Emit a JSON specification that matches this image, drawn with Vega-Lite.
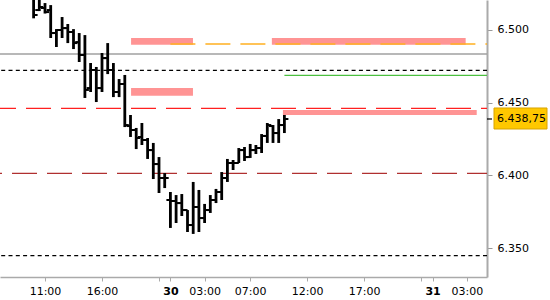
{
  "$schema": "https://vega.github.io/schema/vega-lite/v6.json",
  "width": 487,
  "height": 277,
  "padding": {"left": 0, "top": 0, "right": 63, "bottom": 23},
  "autosize": {"type": "none"},
  "background": "white",
  "config": {
    "view": {"stroke": null},
    "axis": {"grid": false, "labelFont": "DejaVu Sans", "labelFontSize": 11, "labelColor": "#000000"}
  },
  "datasets": {
    "bars": [
      {"t": -1, "o": 6523.9, "h": 6530.8, "l": 6507.9, "c": 6510.2},
      {"t": -0.5, "o": 6513.6, "h": 6526.0, "l": 6512.9, "c": 6515.7},
      {"t": 0, "o": 6515.0, "h": 6518.4, "l": 6511.2, "c": 6512.2},
      {"t": 0.5, "o": 6513.6, "h": 6517.0, "l": 6494.4, "c": 6497.8},
      {"t": 1, "o": 6497.8, "h": 6500.5, "l": 6488.2, "c": 6499.9},
      {"t": 1.5, "o": 6499.9, "h": 6508.8, "l": 6494.4, "c": 6501.2},
      {"t": 2, "o": 6501.2, "h": 6504.0, "l": 6490.9, "c": 6498.5},
      {"t": 2.5, "o": 6498.5, "h": 6500.5, "l": 6486.8, "c": 6490.9},
      {"t": 3, "o": 6491.6, "h": 6497.8, "l": 6477.9, "c": 6482.7},
      {"t": 3.5, "o": 6482.7, "h": 6496.4, "l": 6453.2, "c": 6458.7},
      {"t": 4, "o": 6460.0, "h": 6477.2, "l": 6457.3, "c": 6472.4},
      {"t": 4.5, "o": 6472.4, "h": 6474.5, "l": 6450.4, "c": 6460.0},
      {"t": 5, "o": 6460.0, "h": 6484.1, "l": 6457.3, "c": 6480.6},
      {"t": 5.5, "o": 6480.6, "h": 6490.9, "l": 6469.6, "c": 6472.4},
      {"t": 6, "o": 6472.4, "h": 6477.2, "l": 6453.8, "c": 6457.3},
      {"t": 6.5, "o": 6457.3, "h": 6466.2, "l": 6453.8, "c": 6462.8},
      {"t": 7, "o": 6462.8, "h": 6469.0, "l": 6433.2, "c": 6434.6},
      {"t": 7.5, "o": 6433.9, "h": 6441.5, "l": 6426.4, "c": 6431.2},
      {"t": 8, "o": 6431.2, "h": 6432.6, "l": 6418.1, "c": 6425.7},
      {"t": 8.5, "o": 6426.4, "h": 6436.0, "l": 6420.9, "c": 6424.3},
      {"t": 9, "o": 6424.3, "h": 6425.7, "l": 6411.3, "c": 6417.4},
      {"t": 9.5, "o": 6417.4, "h": 6422.3, "l": 6397.5, "c": 6407.8},
      {"t": 10, "o": 6407.8, "h": 6412.6, "l": 6387.9, "c": 6398.2},
      {"t": 10.5, "o": 6398.2, "h": 6401.6, "l": 6391.3, "c": 6398.2},
      {"t": 11, "o": 6383.1, "h": 6388.6, "l": 6363.9, "c": 6382.4},
      {"t": 11.5, "o": 6382.4, "h": 6386.5, "l": 6367.3, "c": 6381.0},
      {"t": 12, "o": 6381.0, "h": 6387.2, "l": 6372.1, "c": 6376.2},
      {"t": 12.5, "o": 6376.2, "h": 6376.2, "l": 6361.1, "c": 6365.9},
      {"t": 13, "o": 6365.9, "h": 6395.5, "l": 6359.8, "c": 6378.3},
      {"t": 13.5, "o": 6378.3, "h": 6390.0, "l": 6361.1, "c": 6370.7},
      {"t": 14, "o": 6370.7, "h": 6380.4, "l": 6367.3, "c": 6376.2},
      {"t": 14.5, "o": 6376.2, "h": 6386.5, "l": 6374.2, "c": 6383.1},
      {"t": 15, "o": 6383.1, "h": 6390.7, "l": 6381.0, "c": 6388.6},
      {"t": 15.5, "o": 6388.6, "h": 6402.3, "l": 6383.1, "c": 6398.2},
      {"t": 16, "o": 6398.2, "h": 6411.3, "l": 6395.5, "c": 6408.5},
      {"t": 16.5, "o": 6408.5, "h": 6410.6, "l": 6403.7, "c": 6408.5},
      {"t": 17, "o": 6408.5, "h": 6418.8, "l": 6408.5, "c": 6417.4},
      {"t": 17.5, "o": 6417.4, "h": 6419.5, "l": 6409.9, "c": 6412.6},
      {"t": 18, "o": 6412.6, "h": 6421.6, "l": 6412.0, "c": 6417.4},
      {"t": 18.5, "o": 6417.4, "h": 6420.9, "l": 6414.7, "c": 6418.8},
      {"t": 19, "o": 6418.8, "h": 6428.4, "l": 6415.4, "c": 6427.1},
      {"t": 19.5, "o": 6427.1, "h": 6436.0, "l": 6422.3, "c": 6434.6},
      {"t": 20, "o": 6433.9, "h": 6434.6, "l": 6422.3, "c": 6429.1},
      {"t": 20.5, "o": 6429.1, "h": 6438.7, "l": 6422.3, "c": 6434.6},
      {"t": 21, "o": 6434.6, "h": 6441.5, "l": 6429.1, "c": 6438.75}
    ],
    "zones": [
      {"t1": 7.55, "t2": 12.98, "p1": 6489.8, "p2": 6494.4},
      {"t1": 7.55, "t2": 12.98, "p1": 6454.7, "p2": 6460.0},
      {"t1": 19.9, "t2": 36.9, "p1": 6489.8, "p2": 6494.4},
      {"t1": 20.87, "t2": 37.87, "p1": 6441.5, "p2": 6444.9}
    ],
    "levels": [
      {"price": 6483.4, "kind": "gray"},
      {"price": 6472.2, "kind": "blackdash"},
      {"price": 6344.85, "kind": "blackdash"},
      {"price": 6446.1, "kind": "red1"},
      {"price": 6401.4, "kind": "red2"},
      {"price": 6468.75, "kind": "green", "start": 21},
      {"price": 6490.25, "kind": "orange", "start": 11}
    ],
    "tag": [{"price": 6438.75, "label": "6.438,75"}]
  },
  "layer": [
    {
      "data": {"name": "zones"},
      "mark": {"type": "rect", "color": "#ff9494"},
      "encoding": {
        "x": {
          "field": "t1", "type": "quantitative", "title": null,
          "scale": {"domain": [-3.9474, 38.7719], "nice": false, "zero": false},
          "axis": {
            "values": [0, 5, 10, 11, 14, 18, 23, 28, 33, 34, 37],
            "labelExpr": "datum.value==0?'11:00':datum.value==5?'16:00':datum.value==11?'30':datum.value==14?'03:00':datum.value==18?'07:00':datum.value==23?'12:00':datum.value==28?'17:00':datum.value==34?'31':datum.value==37?'03:00':''",
            "labelFlush": false,
            "labelOverlap": false,
            "domainColor": "#aaaaaa",
            "domainWidth": 1.5,
            "tickColor": "#aaaaaa",
            "tickSize": 4,
            "labelPadding": 4,
            "labelFontWeight": {"condition": {"test": "datum.value == 11 || datum.value == 34", "value": "bold"}, "value": "normal"}
          }
        },
        "x2": {"field": "t2"},
        "y": {
          "field": "p1", "type": "quantitative", "title": null,
          "scale": {"domain": [6330.2, 6520.5], "nice": false, "zero": false},
          "axis": {
            "orient": "right",
            "values": [6350, 6400, 6450, 6500],
            "labelExpr": "replace(format(datum.value, ','), ',', '.')",
            "domainColor": "#aaaaaa",
            "domainWidth": 2,
            "tickColor": "#999999",
            "tickSize": 5,
            "labelPadding": 5
          }
        },
        "y2": {"field": "p2"}
      }
    },
    {
      "data": {"name": "levels"},
      "transform": [{"filter": "datum.kind == 'gray'"}],
      "mark": {"type": "rule", "color": "#a0a0a0", "strokeWidth": 1.3},
      "encoding": {"y": {"field": "price", "type": "quantitative", "title": null}}
    },
    {
      "data": {"name": "levels"},
      "transform": [{"filter": "datum.kind == 'blackdash'"}],
      "mark": {"type": "rule", "color": "#000000", "strokeWidth": 1.3, "strokeDash": [4, 3.3]},
      "encoding": {"y": {"field": "price", "type": "quantitative", "title": null}}
    },
    {
      "data": {"name": "levels"},
      "transform": [{"filter": "datum.kind == 'red1'"}],
      "mark": {"type": "rule", "color": "#ff2020", "strokeWidth": 1.3, "strokeDash": [25, 10], "strokeDashOffset": 19},
      "encoding": {"y": {"field": "price", "type": "quantitative", "title": null}}
    },
    {
      "data": {"name": "levels"},
      "transform": [{"filter": "datum.kind == 'red2'"}],
      "mark": {"type": "rule", "color": "#b03030", "strokeWidth": 1.3, "strokeDash": [25, 10], "strokeDashOffset": 5},
      "encoding": {"y": {"field": "price", "type": "quantitative", "title": null}}
    },
    {
      "data": {"name": "levels"},
      "transform": [{"filter": "datum.kind == 'green'"}],
      "mark": {"type": "rule", "color": "#4cc040", "strokeWidth": 1.3},
      "encoding": {
        "x": {"field": "start", "type": "quantitative", "title": null},
        "x2": {"value": "width"},
        "y": {"field": "price", "type": "quantitative", "title": null}
      }
    },
    {
      "data": {"name": "levels"},
      "transform": [{"filter": "datum.kind == 'orange'"}],
      "mark": {"type": "rule", "color": "#ffb020", "strokeWidth": 1.5, "strokeDash": [25, 10]},
      "encoding": {
        "x": {"field": "start", "type": "quantitative", "title": null},
        "x2": {"value": "width"},
        "y": {"field": "price", "type": "quantitative", "title": null}
      }
    },
    {
      "data": {"name": "bars"},
      "mark": {"type": "rule", "color": "#000000", "strokeWidth": 2.8, "clip": true},
      "encoding": {
        "x": {"field": "t", "type": "quantitative", "title": null},
        "y": {"field": "l", "type": "quantitative", "title": null},
        "y2": {"field": "h"}
      }
    },
    {
      "data": {"name": "bars"},
      "mark": {"type": "rule", "color": "#000000", "strokeWidth": 2, "xOffset": -4, "clip": true},
      "encoding": {
        "x": {"field": "t", "type": "quantitative", "title": null},
        "x2": {"field": "t"},
        "y": {"field": "o", "type": "quantitative", "title": null}
      }
    },
    {
      "data": {"name": "bars"},
      "mark": {"type": "rule", "color": "#000000", "strokeWidth": 2, "x2Offset": 4, "clip": true},
      "encoding": {
        "x": {"field": "t", "type": "quantitative", "title": null},
        "x2": {"field": "t"},
        "y": {"field": "c", "type": "quantitative", "title": null}
      }
    },
    {
      "data": {"name": "tag"},
      "mark": {"type": "rect", "color": "#ffc800", "stroke": "#d9a300", "strokeWidth": 1, "xOffset": 7, "x2Offset": 60, "yOffset": -11, "y2Offset": 10},
      "encoding": {
        "x": {"value": "width"},
        "x2": {"value": "width"},
        "y": {"field": "price", "type": "quantitative", "title": null},
        "y2": {"field": "price"}
      }
    },
    {
      "data": {"name": "tag"},
      "mark": {"type": "rule", "color": "#000000", "strokeWidth": 1.2, "x2Offset": 5},
      "encoding": {
        "x": {"value": "width"},
        "x2": {"value": "width"},
        "y": {"field": "price", "type": "quantitative", "title": null}
      }
    },
    {
      "data": {"name": "tag"},
      "mark": {"type": "text", "align": "left", "baseline": "middle", "dx": 10, "font": "DejaVu Sans", "fontSize": 11, "color": "#000000"},
      "encoding": {
        "x": {"value": "width"},
        "y": {"field": "price", "type": "quantitative", "title": null},
        "text": {"field": "label"}
      }
    }
  ]
}
